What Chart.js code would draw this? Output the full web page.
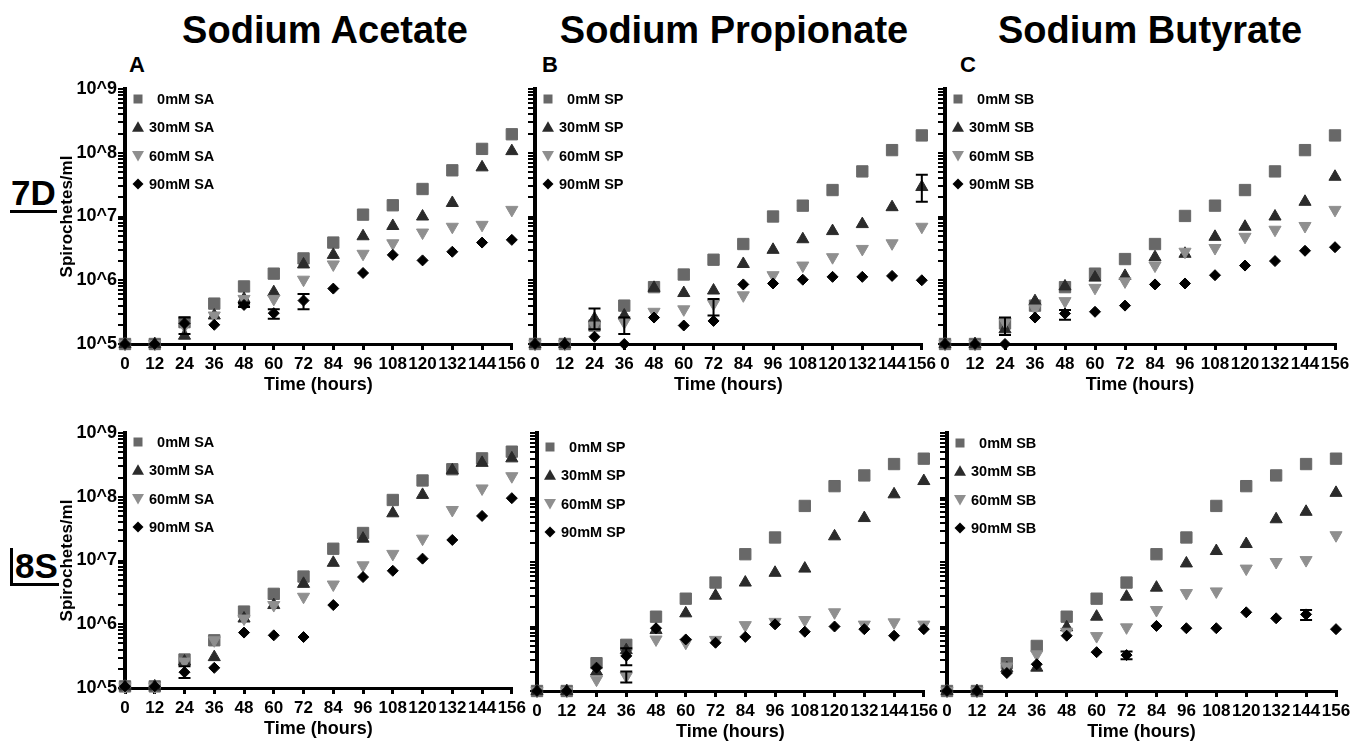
<!DOCTYPE html>
<html>
<head>
<meta charset="utf-8">
<script src="https://cdn.jsdelivr.net/npm/chart.js@4.4.1/dist/chart.umd.min.js"></script>
<style>
body { margin: 0; background: #fff; }
#wrap { position: relative; width: 1365px; height: 743px; overflow: hidden; font-family: 'Liberation Sans', Arial, Helvetica, sans-serif; font-weight: bold; color: #000; }
.lbl { position: absolute; line-height: 1; white-space: nowrap; }
.title { font-size: 38px; top: 11px; transform: translateX(-50%); }
.letter { font-size: 22px; top: 54px; transform: translateX(-50%); }
.row { font-size: 35px; left: 10px; padding: 0 1px; border-bottom: 3px solid #000; }
canvas { position: absolute; }
</style>
</head>
<body>
<div id="wrap">
  <div class="lbl title" style="left:325px">Sodium Acetate</div>
  <div class="lbl title" style="left:734px">Sodium Propionate</div>
  <div class="lbl title" style="left:1150px">Sodium Butyrate</div>
  <div class="lbl letter" style="left:137px">A</div>
  <div class="lbl letter" style="left:550px">B</div>
  <div class="lbl letter" style="left:968px">C</div>
  <div class="lbl row" style="top:175px">7D</div>
  <div class="lbl row" style="top:548px;border-left:3px solid #000;padding-left:2px">8S</div>

  <canvas id="c7a" width="480" height="330" style="left:50px;top:75px"></canvas>
  <canvas id="c7b" width="420" height="330" style="left:520px;top:75px"></canvas>
  <canvas id="c7c" width="430" height="330" style="left:930px;top:75px"></canvas>
  <canvas id="c8a" width="480" height="330" style="left:50px;top:419px"></canvas>
  <canvas id="c8b" width="420" height="330" style="left:522px;top:419px"></canvas>
  <canvas id="c8c" width="430" height="330" style="left:932px;top:419px"></canvas>
</div>
<script>
const hours = [0, 12, 24, 36, 48, 60, 72, 84, 96, 108, 120, 132, 144, 156];
const doses = ['0mM', '30mM', '60mM', '90mM'];
const yTickLabels = ['10^5', '10^6', '10^7', '10^8', '10^9'];

// 7D strain, spirochetes/ml
const acetate7D_0 = [1e5, 1e5, 2.2e5, 4.3e5, 8e5, 1.27e6, 2.2e6, 3.9e6, 1.07e7, 1.5e7, 2.7e7, 5.3e7, 1.15e8, 1.95e8];
const acetate7D_30 = [1e5, 1e5, 1.35e5, 2.8e5, 5.1e5, 6.5e5, 1.77e6, 2.5e6, 4.9e6, 7.1e6, 1e7, 1.63e7, 5.9e7, 1.06e8];
const acetate7D_60 = [1e5, 1e5, 1.9e5, 2.8e5, 5.1e5, 5.1e5, 1.02e6, 1.77e6, 2.6e6, 3.8e6, 5.6e6, 6.9e6, 7.4e6, 1.27e7];
const acetate7D_90 = [1e5, 1e5, 2.1e5, 2e5, 4.1e5, 3.05e5, 4.8e5, 7.4e5, 1.3e6, 2.5e6, 2.05e6, 2.8e6, 3.9e6, 4.3e6];

const propionate7D_0 = [1e5, 1e5, 1.95e5, 4e5, 7.8e5, 1.23e6, 2.1e6, 3.7e6, 1e7, 1.48e7, 2.6e7, 5.1e7, 1.1e8, 1.87e8];
const propionate7D_30 = [1e5, 1e5, 2.5e5, 2.8e5, 7.6e5, 6.3e5, 6.9e5, 1.8e6, 3e6, 4.4e6, 5.9e6, 7.6e6, 1.4e7, 2.9e7];
const propionate7D_60 = [1e5, 1e5, 1.95e5, 2.2e5, 3.2e5, 3.5e5, 4.3e5, 5.8e5, 1.2e6, 1.7e6, 2.3e6, 3.1e6, 3.8e6, 6.9e6];
const propionate7D_90 = [1e5, 1e5, 1.3e5, 1e5, 2.6e5, 1.95e5, 2.3e5, 8.6e5, 8.9e5, 1.02e6, 1.13e6, 1.13e6, 1.17e6, 1e6];

const butyrate7D_0 = [1e5, 1e5, 2.1e5, 4e5, 7.8e5, 1.27e6, 2.15e6, 3.7e6, 1.02e7, 1.48e7, 2.6e7, 5.1e7, 1.1e8, 1.87e8];
const butyrate7D_30 = [1e5, 1e5, 1.7e5, 4.7e5, 8e5, 1.1e6, 1.17e6, 2.3e6, 2.6e6, 4.8e6, 6.9e6, 1e7, 1.7e7, 4.2e7];
const butyrate7D_60 = [1e5, 1e5, 2.2e5, 3.6e5, 4.7e5, 7.6e5, 9.6e5, 1.7e6, 2.8e6, 3.2e6, 4.8e6, 6.2e6, 7.1e6, 1.27e7];
const butyrate7D_90 = [1e5, 1e5, 1e5, 2.6e5, 3e5, 3.2e5, 4e5, 8.6e5, 8.9e5, 1.2e6, 1.7e6, 2e6, 2.9e6, 3.3e6];

// 8S strain
const acetate8S_0 = [1.06e5, 1.06e5, 2.8e5, 5.6e5, 1.58e6, 3e6, 5.6e6, 1.53e7, 2.7e7, 8.9e7, 1.8e8, 2.7e8, 4e8, 5.1e8];
const acetate8S_30 = [1.06e5, 1.06e5, 2.6e5, 3.05e5, 1.23e6, 2e6, 4.3e6, 9.2e6, 2.2e7, 5.5e7, 1.07e8, 2.6e8, 3.4e8, 4e8];
const acetate8S_60 = [1.06e5, 1.06e5, 2.6e5, 5.6e5, 1.23e6, 2e6, 2.7e6, 4.2e6, 8.4e6, 1.27e7, 2.2e7, 6.2e7, 1.35e8, 2.1e8];
const acetate8S_90 = [1.06e5, 1.06e5, 1.77e5, 2.07e5, 7.4e5, 6.7e5, 6.3e5, 2e6, 5.5e6, 6.9e6, 1.07e7, 2.1e7, 5e7, 9.5e7];

const propionate8S_0 = [1e5, 1e5, 2.7e5, 5.2e5, 1.42e6, 2.7e6, 4.8e6, 1.32e7, 2.4e7, 7.4e7, 1.5e8, 2.2e8, 3.3e8, 4e8];
const propionate8S_30 = [1e5, 1e5, 2e5, 4.3e5, 8.8e5, 1.6e6, 3e6, 4.8e6, 6.8e6, 7.9e6, 2.5e7, 4.8e7, 1.12e8, 1.8e8];
const propionate8S_60 = [1e5, 1e5, 1.5e5, 1.7e5, 6.3e5, 5.6e5, 6.2e5, 1.05e6, 1.18e6, 1.26e6, 1.66e6, 1.07e6, 1.16e6, 1.07e6];
const propionate8S_90 = [1e5, 1e5, 2.3e5, 3.5e5, 9.4e5, 6.3e5, 5.6e5, 6.9e5, 1.08e6, 8.3e5, 1e6, 9.1e5, 7.2e5, 9.1e5];

const butyrate8S_0 = [1e5, 1e5, 2.7e5, 5e5, 1.42e6, 2.7e6, 4.8e6, 1.32e7, 2.4e7, 7.4e7, 1.5e8, 2.2e8, 3.3e8, 4e8];
const butyrate8S_30 = [1e5, 1e5, 2.25e5, 2.3e5, 9.7e5, 1.42e6, 2.9e6, 4e6, 9.5e6, 1.48e7, 1.9e7, 4.6e7, 6e7, 1.18e8];
const butyrate8S_60 = [1e5, 1e5, 2.4e5, 3.7e5, 8.3e5, 7.1e5, 9.7e5, 1.8e6, 3.3e6, 3.5e6, 7.9e6, 1e7, 1.07e7, 2.6e7];
const butyrate8S_90 = [1e5, 1e5, 1.9e5, 2.6e5, 7.2e5, 4e5, 3.6e5, 1.02e6, 9.4e5, 9.4e5, 1.66e6, 1.34e6, 1.54e6, 9.1e5];

// error bars that show: [dose index, time index, low, high]
const acetate7D_err = [[3, 2, 1.44e5, 2.6e5], [3, 4, 3.8e5, 4.4e5], [3, 5, 2.5e5, 3.5e5], [3, 6, 3.5e5, 6.1e5]];
const propionate7D_err = [[1, 2, 1.7e5, 3.6e5], [2, 3, 1.44e5, 2.6e5], [2, 6, 2.8e5, 5.1e5], [1, 13, 1.7e7, 4.5e7]];
const butyrate7D_err = [[0, 2, 1.39e5, 2.6e5], [3, 4, 2.4e5, 3.4e5]];
const acetate8S_err = [[3, 2, 1.44e5, 2.2e5]];
const propionate8S_err = [[3, 3, 2.5e5, 4.6e5], [2, 3, 1.35e5, 2e5]];
const butyrate8S_err = [[3, 6, 3.1e5, 4.1e5], [3, 12, 1.26e6, 1.8e6]];

const FONT = "'Liberation Sans', Arial, Helvetica, sans-serif";
const colors = ['#686868', '#2b2b2b', '#8f8f8f', '#000000'];
const styles = ['rect', 'triangle', 'triangle', 'rectRot'];
const rotations = [0, 0, 180, 0];
const radii = [8, 7, 7, 5.5];

Chart.defaults.font.family = FONT;
Chart.defaults.font.weight = 'bold';
Chart.defaults.color = '#000';

function yTicks() {
    const list = [];
    for (let e = 5; e < 9; e++) {
        for (let m = 1; m < 10; m++) list.push({value: m * Math.pow(10, e)});
    }
    list.push({value: 1e9});
    return list;
}

function drawMarker(ctx, k, x, y) {
    ctx.fillStyle = colors[k];
    ctx.beginPath();
    if (k === 0) {
        ctx.rect(x - 4.5, y - 4.5, 9, 9);
    } else if (k === 1) {
        ctx.moveTo(x, y - 6); ctx.lineTo(x + 6, y + 4.5); ctx.lineTo(x - 6, y + 4.5);
    } else if (k === 2) {
        ctx.moveTo(x, y + 6); ctx.lineTo(x + 6, y - 4.5); ctx.lineTo(x - 6, y - 4.5);
    } else {
        ctx.moveTo(x, y - 5.5); ctx.lineTo(x + 5.5, y); ctx.lineTo(x, y + 5.5); ctx.lineTo(x - 5.5, y);
    }
    ctx.closePath();
    ctx.fill();
}

function overlay(p) {
    return {
        id: 'overlay' + p.id,
        afterDatasetsDraw(chart) {
            const ctx = chart.ctx;
            const xs = chart.scales.x, ys = chart.scales.y;
            // error bars
            ctx.save();
            ctx.strokeStyle = '#000';
            ctx.lineWidth = 2;
            p.errors.forEach(([k, i, lo, hi]) => {
                const x = xs.getPixelForValue(hours[i]);
                const y1 = ys.getPixelForValue(lo), y2 = ys.getPixelForValue(hi);
                ctx.beginPath();
                ctx.moveTo(x, y1); ctx.lineTo(x, y2);
                ctx.moveTo(x - 6, y1); ctx.lineTo(x + 6, y1);
                ctx.moveTo(x - 6, y2); ctx.lineTo(x + 6, y2);
                ctx.stroke();
            });
            // legend in the top left corner
            const area = chart.chartArea;
            ctx.font = 'bold 14.5px ' + FONT;
            ctx.textBaseline = 'middle';
            ctx.textAlign = 'right';
            const labels = chart.data.datasets.map(d => d.label);
            const maxW = Math.max(...labels.map(t => ctx.measureText(t).width));
            labels.forEach((t, k) => {
                const y = area.top + p.legendTop + k * 28.3;
                drawMarker(ctx, k, area.left + 13, y);
                ctx.fillStyle = '#000';
                ctx.fillText(t, area.left + 24 + maxW, y + 1);
            });
            ctx.restore();
        }
    };
}

function makePanel(p) {
    const datasets = p.series.map((vals, k) => ({
        label: doses[k] + ' ' + p.agent,
        data: hours.map((h, i) => ({x: h, y: vals[i]})),
        pointStyle: styles[k],
        pointRotation: rotations[k],
        pointRadius: radii[k],
        pointBackgroundColor: colors[k],
        pointBorderColor: colors[k],
        pointBorderWidth: 1,
        order: 3 - k,
        clip: false
    }));
    new Chart(document.getElementById(p.id), {
        type: 'scatter',
        data: {datasets: datasets},
        options: {
            responsive: false,
            animation: false,
            events: [],
            layout: {padding: {left: 0, top: 14, right: p.padRight, bottom: p.padBottom}},
            plugins: {legend: {display: false}, tooltip: {enabled: false}},
            scales: {
                x: {
                    type: 'linear', min: 0, max: 156,
                    border: {width: 3, color: '#000'},
                    grid: {drawOnChartArea: false, color: '#000', lineWidth: 3, tickLength: 6},
                    ticks: {stepSize: 12, autoSkip: false, maxRotation: 0, minRotation: 0, padding: 4, color: '#000',
                        font: {size: 17, weight: 'bold'}},
                    title: {display: true, text: 'Time (hours)', color: '#000', font: {size: 18, weight: 'bold'},
                        padding: {top: 0, bottom: 0}},
                    afterFit: s => { s.height = 52; }
                },
                y: {
                    type: 'logarithmic', min: 1e5, max: 1e9,
                    border: {width: 4, color: '#000'},
                    grid: {drawOnChartArea: false, color: '#000', lineWidth: 2, tickLength: 7},
                    afterBuildTicks: s => { s.ticks = yTicks(); },
                    ticks: {
                        autoSkip: false, padding: 1, color: '#000', font: {size: 18, weight: 'bold'},
                        callback: v => {
                            if (!p.first) return '';
                            const e = Math.round(Math.log10(v));
                            return Math.abs(v - Math.pow(10, e)) < 1 ? yTickLabels[e - 5] : '';
                        }
                    },
                    title: {display: p.first, text: 'Spirochetes/ml', color: '#000', font: {size: 17, weight: 'bold'},
                        padding: {top: 7, bottom: 0}},
                    afterFit: s => { s.width = p.yWidth; }
                }
            }
        },
        plugins: [overlay(p)]
    });
}

const panels = [
    {id: 'c7a', agent: 'SA', series: [acetate7D_0, acetate7D_30, acetate7D_60, acetate7D_90], errors: acetate7D_err,
        first: true, yWidth: 75, padRight: 18, padBottom: 9, legendTop: 10},
    {id: 'c7b', agent: 'SP', series: [propionate7D_0, propionate7D_30, propionate7D_60, propionate7D_90], errors: propionate7D_err,
        first: false, yWidth: 15, padRight: 16, padBottom: 9, legendTop: 10},
    {id: 'c7c', agent: 'SB', series: [butyrate7D_0, butyrate7D_30, butyrate7D_60, butyrate7D_90], errors: butyrate7D_err,
        first: false, yWidth: 15, padRight: 25, padBottom: 9, legendTop: 10},
    {id: 'c8a', agent: 'SA', series: [acetate8S_0, acetate8S_30, acetate8S_60, acetate8S_90], errors: acetate8S_err,
        first: true, yWidth: 75, padRight: 17, padBottom: 9, legendTop: 9},
    {id: 'c8b', agent: 'SP', series: [propionate8S_0, propionate8S_30, propionate8S_60, propionate8S_90], errors: propionate8S_err,
        first: false, yWidth: 15, padRight: 17, padBottom: 6, legendTop: 14},
    {id: 'c8c', agent: 'SB', series: [butyrate8S_0, butyrate8S_30, butyrate8S_60, butyrate8S_90], errors: butyrate8S_err,
        first: false, yWidth: 15, padRight: 26, padBottom: 6, legendTop: 10}
];

panels.forEach(makePanel);
</script>
</body>
</html>
